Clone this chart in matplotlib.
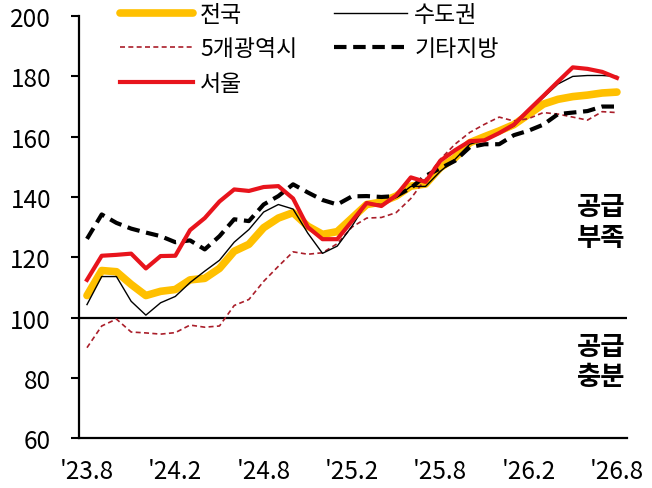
import numpy as np
import matplotlib
matplotlib.use('Agg')
import matplotlib.pyplot as plt

plt.rcParams['font.family'] = ['Noto Sans CJK KR', 'DejaVu Sans']

# monthly index from '23.8 to '26.8
months = np.arange(37)
tick_pos = [0, 6, 12, 18, 24, 30, 36]
tick_labels = ["'23.8", "'24.2", "'24.8", "'25.2", "'25.8", "'26.2", "'26.8"]

nationwide = [107.3, 115.6, 115.2, 111.0, 107.3, 108.7, 109.3, 112.5, 113.0, 116.3,
              122.0, 124.3, 129.8, 133.0, 134.8, 130.3, 127.6, 128.5, 133.0, 137.5,
              138.3, 140.3, 143.6, 144.3, 149.7, 153.0, 158.0, 160.0, 161.9, 164.0,
              167.4, 170.8, 172.4, 173.3, 173.8, 174.5, 174.8]
capital = [104.3, 113.6, 113.6, 105.4, 100.8, 104.9, 107.0, 111.6, 115.4, 119.0,
           125.0, 129.2, 135.0, 137.5, 136.0, 128.0, 121.3, 123.7, 130.3, 138.0,
           137.5, 139.8, 143.5, 143.5, 148.5, 152.5, 157.5, 159.0, 161.0, 163.5,
           168.5, 173.0, 177.5, 180.0, 180.3, 180.3, 180.0]
metro5 = [90.0, 97.2, 99.5, 95.2, 94.9, 94.5, 95.0, 97.5, 96.8, 97.2,
          104.0, 106.0, 112.0, 117.0, 121.8, 121.0, 121.5, 124.5, 130.0, 133.0,
          133.2, 134.8, 139.5, 146.0, 152.5, 157.5, 161.4, 164.1, 166.5, 165.2,
          166.0, 168.0, 167.5, 166.5, 165.5, 168.3, 168.0]
others = [126.1, 134.2, 131.4, 129.5, 128.2, 127.0, 125.0, 125.6, 122.6, 127.0,
          132.6, 132.0, 137.5, 140.3, 144.2, 141.5, 139.0, 137.5, 140.2, 140.3,
          140.0, 140.3, 143.0, 147.0, 149.5, 152.0, 156.5, 157.5, 157.5, 160.5,
          162.0, 164.0, 167.5, 168.0, 168.5, 170.0, 170.0]
seoul = [112.5, 120.5, 120.8, 121.2, 116.3, 120.4, 120.5, 129.0, 133.0, 138.5,
         142.5, 142.0, 143.3, 143.6, 139.5, 130.0, 126.0, 126.0, 132.0, 138.0,
         137.0, 140.5, 146.5, 145.0, 152.0, 155.5, 158.5, 158.8, 161.2, 164.0,
         168.8, 173.5, 178.3, 183.0, 182.5, 181.5, 179.5]

fig = plt.figure(figsize=(6.52, 4.89), dpi=100)
ax = fig.add_axes([0.121, 0.102, 0.841, 0.863])

l1, = ax.plot(months, nationwide, color='#FFC000', lw=5.5, solid_capstyle='round', label='전국')
l2, = ax.plot(months, metro5, color='#AA1E2A', lw=1.2, ls=(0, (3, 2)), label='5개광역시')
l4, = ax.plot(months, others, color='black', lw=3, ls=(0, (3, 1.6)), label='기타지방')
l3, = ax.plot(months, capital, color='black', lw=1.0, label='수도권')
l5, = ax.plot(months, seoul, color='#E8141C', lw=3, label='서울')

ax.axhline(100, color='black', lw=1.6, zorder=1)

ax.set_xlim(-0.55, 36.7)
ax.set_ylim(60, 200)
ax.set_yticks(range(60, 201, 20))
ax.set_xticks(tick_pos)
ax.set_xticklabels(tick_labels)
ax.tick_params(axis='y', length=6, width=1.5, pad=14, labelsize=17.5)
ax.tick_params(axis='x', length=0, pad=14, labelsize=17.5)

for s in ['top', 'right']:
    ax.spines[s].set_visible(False)
ax.spines['left'].set_linewidth(1.6)
ax.spines['bottom'].set_linewidth(1.6)

ax.legend(handles=[l1, l2, l5, l3, l4], ncol=2, frameon=False, fontsize=16.5,
          loc='upper left', bbox_to_anchor=(0.184, 0.992), bbox_transform=fig.transFigure,
          handlelength=3.2, handletextpad=0.3, columnspacing=1.6, labelspacing=0.5,
          borderaxespad=0, borderpad=0)

ax.text(0.996, 0.512, '공급\n부족', transform=ax.transAxes, ha='right', va='center',
        fontsize=19, fontweight='bold', linespacing=1.15)
ax.text(0.996, 0.182, '공급\n충분', transform=ax.transAxes, ha='right', va='center',
        fontsize=19, fontweight='bold', linespacing=1.15)

fig.savefig('out.png', dpi=100)
